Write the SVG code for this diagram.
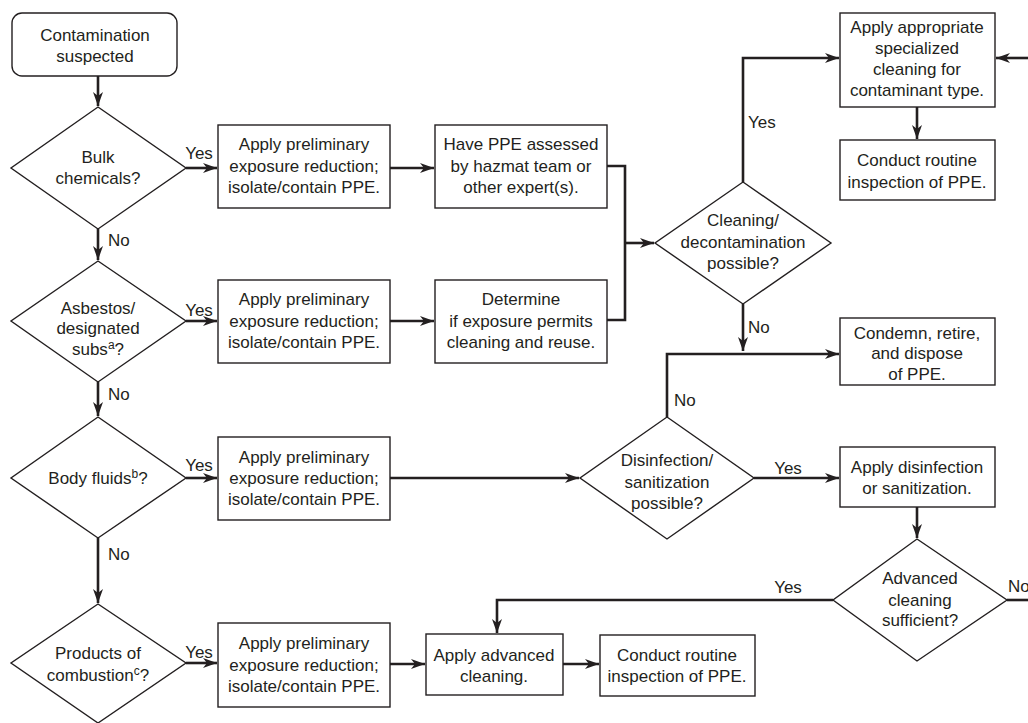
<svg xmlns="http://www.w3.org/2000/svg" width="1028" height="723" viewBox="0 0 1028 723">
<style>
.n{fill:#fff;stroke:#231f20;stroke-width:1.4}
.t{font-family:"Liberation Sans",Arial,sans-serif;font-size:17px;fill:#231f20;text-anchor:middle}
.l{font-family:"Liberation Sans",Arial,sans-serif;font-size:17px;fill:#231f20}
.c{fill:none;stroke:#231f20;stroke-width:2.6}
.a{marker-end:url(#ah)}
.s{font-size:12px}
</style>
<defs>
<marker id="ah" markerUnits="userSpaceOnUse" markerWidth="16" markerHeight="12" refX="14" refY="6" orient="auto">
<path d="M0,1 L14,6 L0,11 L4,6 z" fill="#231f20"/>
</marker>
</defs>
<rect width="1028" height="723" fill="#fff"/>
<g id="connectors">
<path class="c a" d="M98,76 V106"/>
<path class="c a" d="M186,168 H217"/>
<path class="c a" d="M390,168 H434"/>
<path class="c" d="M607,166 H625 V320 H607"/>
<path class="c a" d="M625,243 H654"/>
<path class="c a" d="M743,182 V58 H839"/>
<path class="c a" d="M1028,58 H996"/>
<path class="c a" d="M917,107 V139"/>
<path class="c a" d="M98,229 V260"/>
<path class="c a" d="M186,321 H217"/>
<path class="c a" d="M390,321 H434"/>
<path class="c a" d="M743,304 V351"/>
<path class="c a" d="M667,417 V354 H839"/>
<path class="c a" d="M98,382 V416"/>
<path class="c a" d="M186,478 H217"/>
<path class="c a" d="M390,478 H579"/>
<path class="c a" d="M754,478 H839"/>
<path class="c a" d="M917,507 V538"/>
<path class="c" d="M1007,600 H1028"/>
<path class="c a" d="M833,600 H497 V633"/>
<path class="c a" d="M98,538 V603"/>
<path class="c a" d="M186,663 H217"/>
<path class="c a" d="M390,664 H425"/>
<path class="c a" d="M563,664 H599"/>
<text class="l" x="199" y="159" text-anchor="middle">Yes</text>
<text class="l" x="108" y="246">No</text>
<text class="l" x="199" y="316" text-anchor="middle">Yes</text>
<text class="l" x="108" y="400">No</text>
<text class="l" x="199" y="471" text-anchor="middle">Yes</text>
<text class="l" x="108" y="560">No</text>
<text class="l" x="199" y="658" text-anchor="middle">Yes</text>
<text class="l" x="748" y="128">Yes</text>
<text class="l" x="748" y="333">No</text>
<text class="l" x="674" y="406">No</text>
<text class="l" x="788" y="474" text-anchor="middle">Yes</text>
<text class="l" x="788" y="593" text-anchor="middle">Yes</text>
<text class="l" x="1008" y="592">No</text>
</g>
<g id="start">
<rect class="n" x="12" y="13" width="165" height="63" rx="10"/>
<text class="t" x="95" y="41">Contamination</text>
<text class="t" x="95" y="62">suspected</text>
</g>
<g id="d-bulk">
<polygon class="n" points="98,107 186,168 98,229 11,168"/>
<text class="t" x="98" y="163">Bulk</text>
<text class="t" x="98" y="184">chemicals?</text>
</g>
<g id="b-prelim1">
<rect class="n" x="218" y="125" width="172" height="83"/>
<text class="t" x="304" y="150">Apply preliminary</text>
<text class="t" x="304" y="172">exposure reduction;</text>
<text class="t" x="304" y="193">isolate/contain PPE.</text>
</g>
<g id="b-hazmat">
<rect class="n" x="435" y="125" width="172" height="83"/>
<text class="t" x="521" y="150">Have PPE assessed</text>
<text class="t" x="521" y="172">by hazmat team or</text>
<text class="t" x="521" y="193">other expert(s).</text>
</g>
<g id="d-cleaning">
<polygon class="n" points="743,182 831,243 743,304 655,243"/>
<text class="t" x="743" y="226">Cleaning/</text>
<text class="t" x="743" y="248">decontamination</text>
<text class="t" x="743" y="269">possible?</text>
</g>
<g id="b-specialized">
<rect class="n" x="840" y="13" width="155" height="94"/>
<text class="t" x="917" y="33">Apply appropriate</text>
<text class="t" x="917" y="54">specialized</text>
<text class="t" x="917" y="75">cleaning for</text>
<text class="t" x="917" y="96">contaminant type.</text>
</g>
<g id="b-inspect1">
<rect class="n" x="840" y="140" width="155" height="60"/>
<text class="t" x="917" y="166">Conduct routine</text>
<text class="t" x="917" y="188">inspection of PPE.</text>
</g>
<g id="d-asbestos">
<polygon class="n" points="98,261 186,321 98,382 11,321"/>
<text class="t" x="98" y="314">Asbestos/</text>
<text class="t" x="98" y="334">designated</text>
<text class="t" x="98" y="355">subs<tspan class="s" dy="-6">a</tspan><tspan dy="6">?</tspan></text>
</g>
<g id="b-prelim2">
<rect class="n" x="218" y="280" width="172" height="83"/>
<text class="t" x="304" y="305">Apply preliminary</text>
<text class="t" x="304" y="327">exposure reduction;</text>
<text class="t" x="304" y="348">isolate/contain PPE.</text>
</g>
<g id="b-determine">
<rect class="n" x="435" y="280" width="172" height="83"/>
<text class="t" x="521" y="305">Determine</text>
<text class="t" x="521" y="327">if exposure permits</text>
<text class="t" x="521" y="348">cleaning and reuse.</text>
</g>
<g id="b-condemn">
<rect class="n" x="840" y="318" width="155" height="67"/>
<text class="t" x="917" y="339">Condemn, retire,</text>
<text class="t" x="917" y="359">and dispose</text>
<text class="t" x="917" y="380">of PPE.</text>
</g>
<g id="d-body">
<polygon class="n" points="98,417 186,478 98,538 11,478"/>
<text class="t" x="98" y="484">Body fluids<tspan class="s" dy="-6">b</tspan><tspan dy="6">?</tspan></text>
</g>
<g id="b-prelim3">
<rect class="n" x="218" y="437" width="172" height="83"/>
<text class="t" x="304" y="463">Apply preliminary</text>
<text class="t" x="304" y="484">exposure reduction;</text>
<text class="t" x="304" y="505">isolate/contain PPE.</text>
</g>
<g id="d-disinfect">
<polygon class="n" points="667,417 754,478 667,539 580,478"/>
<text class="t" x="667" y="466">Disinfection/</text>
<text class="t" x="667" y="488">sanitization</text>
<text class="t" x="667" y="509">possible?</text>
</g>
<g id="b-disinfect">
<rect class="n" x="840" y="447" width="155" height="60"/>
<text class="t" x="917" y="473">Apply disinfection</text>
<text class="t" x="917" y="494">or sanitization.</text>
</g>
<g id="d-advanced">
<polygon class="n" points="917,539 1007,600 917,661 833,600"/>
<text class="t" x="920" y="584">Advanced</text>
<text class="t" x="920" y="606">cleaning</text>
<text class="t" x="920" y="626">sufficient?</text>
</g>
<g id="d-combustion">
<polygon class="n" points="98,604 186,663 98,723 11,663"/>
<text class="t" x="98" y="659">Products of</text>
<text class="t" x="98" y="681">combustion<tspan class="s" dy="-6">c</tspan><tspan dy="6">?</tspan></text>
</g>
<g id="b-prelim4">
<rect class="n" x="218" y="623" width="172" height="84"/>
<text class="t" x="304" y="649">Apply preliminary</text>
<text class="t" x="304" y="671">exposure reduction;</text>
<text class="t" x="304" y="692">isolate/contain PPE.</text>
</g>
<g id="b-advanced">
<rect class="n" x="426" y="634" width="137" height="61"/>
<text class="t" x="494" y="661">Apply advanced</text>
<text class="t" x="494" y="682">cleaning.</text>
</g>
<g id="b-inspect2">
<rect class="n" x="600" y="635" width="155" height="61"/>
<text class="t" x="677" y="661">Conduct routine</text>
<text class="t" x="677" y="682">inspection of PPE.</text>
</g>
</svg>
